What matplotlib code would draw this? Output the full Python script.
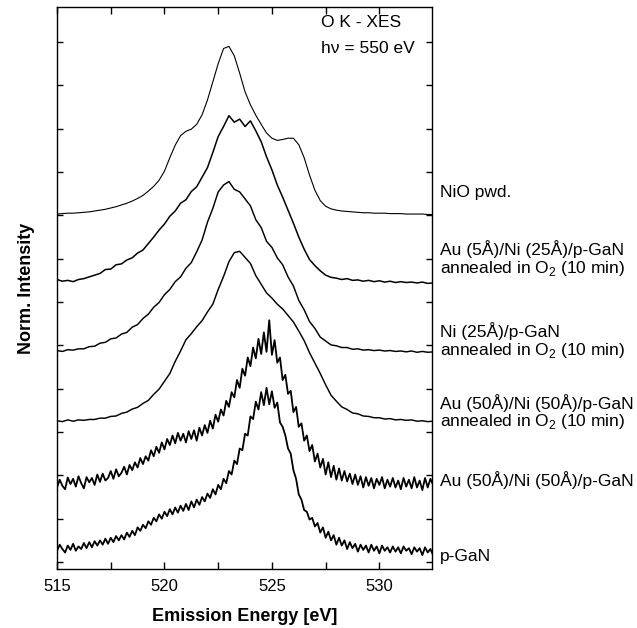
import matplotlib
matplotlib.use("Agg")
import matplotlib.pyplot as plt
import matplotlib.ticker as ticker
import numpy as np

plt.rcParams['font.family'] = ['Liberation Sans', 'DejaVu Sans']
plt.rcParams['mathtext.fontset'] = 'custom'
plt.rcParams['mathtext.rm'] = 'Liberation Sans'

# emission energy grids (eV): 0.25 eV steps for the smoother spectra, 0.125 eV for the noisy ones
energy = np.arange(71) * 0.25 + 515.0

# stacked spectra (already offset, in tick units)
nio = [8.03, 8.04, 8.05, 8.05, 8.06, 8.07, 8.08, 8.10, 8.12, 8.14, 8.17, 8.20, 8.24, 8.28, 8.33, 8.39,
       8.46, 8.56, 8.67, 8.81, 9.02, 9.33, 9.62, 9.84, 9.94, 9.99, 10.10, 10.32, 10.66, 11.08, 11.50,
       11.85, 11.90, 11.68, 11.28, 10.85, 10.55, 10.31, 10.10, 9.90, 9.78, 9.73, 9.75, 9.78, 9.78,
       9.63, 9.33, 8.93, 8.58, 8.34, 8.21, 8.15, 8.12, 8.10, 8.09, 8.08, 8.07, 8.06, 8.06, 8.05, 8.05,
       8.05, 8.04, 8.04, 8.04, 8.03, 8.03, 8.03, 8.03, 8.02, 8.02]
au5_ni25_ann = [6.52, 6.48, 6.50, 6.47, 6.52, 6.54, 6.58, 6.62, 6.66, 6.75, 6.76, 6.86, 6.88, 6.97,
                7.02, 7.13, 7.20, 7.35, 7.50, 7.66, 7.80, 7.98, 8.10, 8.28, 8.36, 8.55, 8.66, 8.88,
                9.10, 9.45, 9.82, 10.05, 10.30, 10.15, 10.22, 10.05, 10.18, 9.95, 9.70, 9.35, 9.05,
                8.70, 8.42, 8.12, 7.82, 7.50, 7.22, 6.98, 6.84, 6.72, 6.62, 6.57, 6.55, 6.52, 6.54,
                6.50, 6.51, 6.48, 6.50, 6.47, 6.49, 6.46, 6.48, 6.45, 6.47, 6.45, 6.46, 6.44, 6.46,
                6.43, 6.44]
ni25_ann = [4.88, 4.86, 4.90, 4.89, 4.92, 4.92, 4.97, 4.98, 5.05, 5.07, 5.15, 5.17, 5.26, 5.30, 5.42,
            5.48, 5.62, 5.72, 5.88, 5.99, 6.17, 6.29, 6.47, 6.58, 6.78, 6.91, 7.16, 7.43, 7.84, 8.16,
            8.54, 8.70, 8.78, 8.60, 8.54, 8.38, 8.22, 7.90, 7.72, 7.40, 7.26, 7.02, 6.86, 6.58, 6.37,
            6.04, 5.82, 5.55, 5.39, 5.19, 5.10, 5.01, 4.99, 4.95, 4.95, 4.91, 4.92, 4.89, 4.90, 4.88,
            4.89, 4.87, 4.88, 4.86, 4.87, 4.85, 4.87, 4.84, 4.86, 4.84, 4.85]
au50_ni50_ann = [3.26, 3.24, 3.28, 3.25, 3.28, 3.27, 3.29, 3.29, 3.32, 3.32, 3.36, 3.37, 3.43, 3.46,
                 3.53, 3.57, 3.66, 3.73, 3.87, 3.99, 4.17, 4.35, 4.63, 4.87, 5.13, 5.27, 5.43, 5.57,
                 5.77, 5.95, 6.29, 6.59, 6.93, 7.14, 7.17, 7.03, 6.89, 6.61, 6.41, 6.21, 6.09, 5.95,
                 5.84, 5.69, 5.54, 5.33, 5.11, 4.83, 4.59, 4.35, 4.09, 3.85, 3.71, 3.58, 3.52, 3.44,
                 3.42, 3.37, 3.36, 3.33, 3.33, 3.30, 3.31, 3.28, 3.29, 3.27, 3.28, 3.25, 3.26, 3.24,
                 3.25]
au50_ni50 = [1.72, 1.90, 1.76, 1.68, 1.95, 1.80, 1.92, 1.74, 1.98, 1.82, 1.70, 1.96, 1.84, 1.94, 1.78,
             2.02, 1.85, 2.04, 1.88, 1.94, 2.10, 1.92, 2.14, 1.98, 2.06, 2.20, 2.02, 2.24, 2.12, 2.30,
             2.18, 2.40, 2.26, 2.44, 2.34, 2.58, 2.44, 2.66, 2.52, 2.76, 2.60, 2.84, 2.70, 2.92, 2.74,
             2.98, 2.80, 2.96, 2.76, 3.02, 2.84, 3.04, 2.80, 3.10, 2.92, 3.16, 2.98, 3.26, 3.08, 3.40,
             3.24, 3.52, 3.38, 3.72, 3.58, 3.92, 3.80, 4.20, 4.02, 4.46, 4.30, 4.72, 4.52, 4.95, 4.70,
             5.15, 4.80, 5.30, 4.85, 5.58, 4.78, 5.12, 4.60, 4.72, 4.20, 4.32, 3.88, 3.95, 3.46, 3.58,
             3.12, 3.20, 2.80, 2.92, 2.56, 2.70, 2.32, 2.50, 2.18, 2.38, 2.02, 2.30, 1.96, 2.22, 1.90,
             2.16, 1.88, 2.10, 1.86, 2.04, 1.80, 2.02, 1.78, 1.98, 1.72, 1.96, 1.76, 1.94, 1.70, 1.92,
             1.78, 1.96, 1.70, 1.90, 1.74, 1.94, 1.72, 1.88, 1.68, 1.94, 1.74, 1.90, 1.70, 1.96, 1.72,
             1.88, 1.66, 1.94, 1.72, 1.92, 1.78]
pgan = [0.26, 0.40, 0.30, 0.22, 0.38, 0.28, 0.42, 0.26, 0.36, 0.30, 0.44, 0.32, 0.46, 0.34, 0.48, 0.38,
        0.50, 0.40, 0.54, 0.42, 0.56, 0.46, 0.60, 0.50, 0.62, 0.52, 0.68, 0.58, 0.72, 0.62, 0.80, 0.72,
        0.86, 0.78, 0.94, 0.86, 1.02, 0.94, 1.10, 1.00, 1.16, 1.06, 1.22, 1.10, 1.26, 1.14, 1.30, 1.18,
        1.34, 1.20, 1.40, 1.26, 1.44, 1.32, 1.50, 1.40, 1.58, 1.48, 1.68, 1.56, 1.78, 1.68, 1.92, 1.82,
        2.10, 2.02, 2.34, 2.26, 2.62, 2.58, 2.96, 2.92, 3.36, 3.30, 3.70, 3.52, 3.92, 3.62, 4.02, 3.64,
        3.94, 3.56, 3.68, 3.22, 3.12, 2.92, 2.62, 2.50, 2.12, 1.92, 1.56, 1.44, 1.20, 1.16, 0.98, 1.02,
        0.82, 0.90, 0.68, 0.80, 0.56, 0.70, 0.50, 0.62, 0.40, 0.56, 0.38, 0.50, 0.30, 0.46, 0.32, 0.42,
        0.24, 0.40, 0.28, 0.38, 0.22, 0.40, 0.26, 0.36, 0.20, 0.38, 0.26, 0.34, 0.22, 0.36, 0.24, 0.34,
        0.20, 0.36, 0.26, 0.32, 0.18, 0.34, 0.24, 0.32, 0.16, 0.34, 0.22, 0.30, 0.16]
energy_fine = np.arange(len(pgan)) * 0.125 + 515.0

spectra = [(energy, nio, 0.8), (energy, au5_ni25_ann, 1.1), (energy, ni25_ann, 1.05),
           (energy, au50_ni50_ann, 1.05), (energy_fine, au50_ni50, 1.3), (energy_fine, pgan, 1.3)]
labels = ["NiO pwd.",
          "Au (5Å)/Ni (25Å)/p-GaN\nannealed in O$_2$ (10 min)",
          "Ni (25Å)/p-GaN\nannealed in O$_2$ (10 min)",
          "Au (50Å)/Ni (50Å)/p-GaN\nannealed in O$_2$ (10 min)",
          "Au (50Å)/Ni (50Å)/p-GaN",
          "p-GaN"]
label_y = [8.52, 7.0, 5.1, 3.45, 1.89, 0.12]

fig = plt.figure(figsize=(6.37, 6.28), dpi=100)
ax = fig.add_axes([0.0895, 0.094, 0.5887, 0.895])

for xs, s, lw in spectra:
    ax.plot(xs[:len(s)], s, color="black", lw=lw)

for lab, yy in zip(labels, label_y):
    ax.text(1.022, yy, lab, transform=ax.get_yaxis_transform(), ha="left", va="center",
            fontsize=12.5, linespacing=1.05)

ax.text(527.3, 12.46, "O K - XES", fontsize=12.5, va="center")
ax.text(527.3, 11.86, "hν = 550 eV", fontsize=12.5, va="center")

ax.set_xlim(515, 532.45)
ax.set_ylim(-0.16, 12.81)
ax.xaxis.set_major_locator(ticker.MultipleLocator(5))
ax.xaxis.set_minor_locator(ticker.MultipleLocator(2.5))
ax.yaxis.set_major_locator(ticker.MultipleLocator(1))
ax.tick_params(which="both", direction="in", top=True, right=True, width=1)
ax.tick_params(which="major", length=5, labelsize=12, pad=7)
ax.tick_params(which="minor", length=5)
ax.tick_params(axis="y", length=4, labelleft=False)
for sp in ax.spines.values():
    sp.set_linewidth(1)

ax.set_xlabel("Emission Energy [eV]", fontsize=13, fontweight="bold", labelpad=10)
ax.set_ylabel("Norm. Intensity", fontsize=13, fontweight="bold", labelpad=16)

fig.savefig("out.png", dpi=100)
